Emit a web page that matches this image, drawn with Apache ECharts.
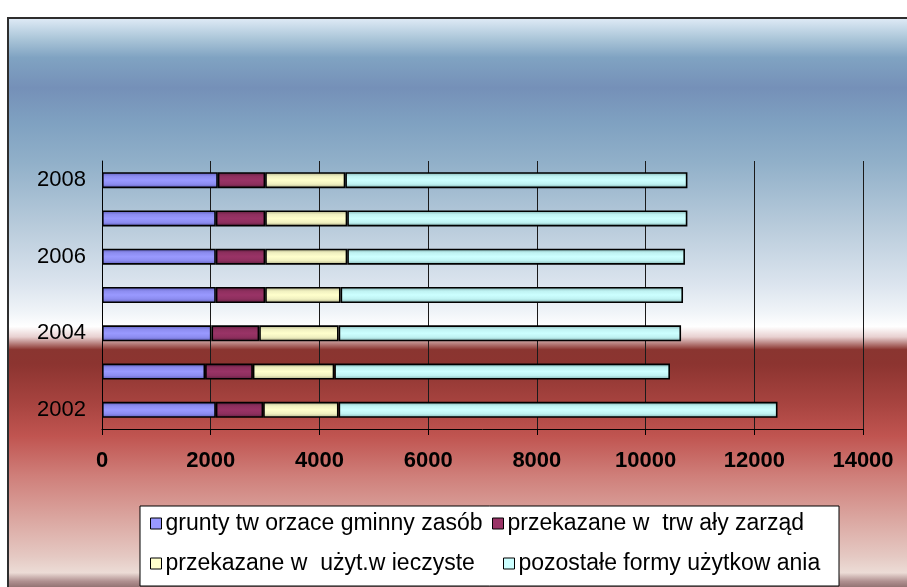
<!DOCTYPE html>
<html>
<head>
<meta charset="utf-8">
<script src="https://cdn.jsdelivr.net/npm/echarts@6/dist/echarts.min.js"></script>
<style>
  html, body { margin: 0; padding: 0; background: #ffffff; width: 907px; height: 587px; overflow: hidden; }
  #bg {
    position: absolute; left: 7px; top: 17px; width: 905px; height: 575px;
    border-left: 2px solid #2e2e2e; border-top: 2px solid #2e2e2e;
    background: linear-gradient(to bottom,
      #dde9f5 0%, #aec8da 3.2%, #80a3c2 6.7%, #7590b8 12%, #7fa1c1 18%, #91b0c9 25%,
      #b8cbdb 36%, #dbe4ee 46%, #f0f4f8 51%, #ffffff 53.5%, #e8d0d0 55.3%, #8a3530 57.5%,
      #8c3430 60%, #a84440 67%, #c05450 72.5%, #cf7f7a 79.5%, #daa49e 86.5%, #e5c9c3 93.5%,
      #ecdcd6 96.3%, #b09090 97.8%, #705050 100%);
  }
  #chart { position: absolute; left: 0; top: 0; width: 907px; height: 587px; }
</style>
</head>
<body>
<div id="bg"></div>
<div id="chart"></div>
<script>
const categories = ['2002', '2003', '2004', '2005', '2006', '2007', '2008'];
const seriesNames = [
  'grunty tw orzace gminny zasób',
  'przekazane w  trw ały zarząd',
  'przekazane w  użyt.w ieczyste',
  'pozostałe formy użytkow ania'
];
const grunty = [2094, 1897, 2014, 2094, 2094, 2094, 2131];
const trwaly = [871, 878, 878, 908, 908, 908, 871];
const uzyt = [1387, 1498, 1461, 1387, 1510, 1510, 1474];
const pozostale = [8075, 6176, 6300, 6300, 6213, 6257, 6294];
const xTicks = { min: 0, max: 14000, interval: 2000 };

const FONT = '"Liberation Sans", Arial, sans-serif';
const baseColors = ['#9999ff', '#993366', '#ffffcc', '#ccffff'];
const edgeColors = ['#5a5ab4', '#5a1e3c', '#a6a680', '#78a8a8'];
const midColors = ['#8c8cf0', '#8e2f5e', '#f0f0c0', '#bff2f2'];

function barGrad(i) {
  return new echarts.graphic.LinearGradient(0, 0, 0, 1, [
    { offset: 0, color: edgeColors[i] },
    { offset: 0.25, color: midColors[i] },
    { offset: 0.5, color: baseColors[i] },
    { offset: 0.75, color: midColors[i] },
    { offset: 1, color: edgeColors[i] }
  ]);
}

const dataArrays = [grunty, trwaly, uzyt, pozostale];
const series = dataArrays.map((arr, i) => ({
  name: seriesNames[i],
  type: 'bar',
  stack: 'total',
  barWidth: 16,
  data: arr,
  itemStyle: { color: barGrad(i), borderColor: '#000', borderWidth: 1.6 },
  emphasis: { disabled: true }
}));

const legendPos = [
  { left: 150, top: 512 },
  { left: 492, top: 512 },
  { left: 150, top: 552 },
  { left: 503, top: 552 }
];
const legends = seriesNames.map((n, i) => ({
  data: [{ name: n, itemStyle: { color: baseColors[i], borderColor: '#000', borderWidth: 1 } }],
  left: legendPos[i].left,
  top: legendPos[i].top,
  icon: 'rect',
  itemWidth: 11,
  itemHeight: 11,
  itemGap: 0,
  padding: 0,
  selectedMode: false,
  textStyle: { fontFamily: FONT, fontSize: 23, color: '#000', padding: [0, 0, 0, -1] }
}));

const chart = echarts.init(document.getElementById('chart'), null, { renderer: 'canvas' });
chart.setOption({
  backgroundColor: 'transparent',
  animation: false,
  graphic: [{
    type: 'rect',
    shape: { x: 140, y: 506, width: 699, height: 80 },
    style: { fill: '#ffffff', stroke: '#000', lineWidth: 1 },
    z: -1
  }],
  legend: legends,
  grid: { left: 102, right: 44, top: 161, bottom: 158, containLabel: false },
  xAxis: {
    type: 'value',
    min: xTicks.min, max: xTicks.max, interval: xTicks.interval,
    axisLine: { show: true, lineStyle: { color: '#000', width: 1 } },
    axisTick: { show: true, length: 6, lineStyle: { color: '#000' } },
    splitLine: { show: true, lineStyle: { color: '#1a1a1a', width: 1 } },
    axisLabel: {
      fontFamily: FONT, fontSize: 22, fontWeight: 'bold', color: '#000', margin: 21,
      formatter: v => String(v)
    }
  },
  yAxis: {
    type: 'category',
    data: categories,
    axisLine: { show: true, lineStyle: { color: '#000', width: 1 } },
    axisTick: { show: false },
    axisLabel: { interval: 1, fontFamily: FONT, fontSize: 22, color: '#000', margin: 16 }
  },
  series: series
});
</script>
</body>
</html>
